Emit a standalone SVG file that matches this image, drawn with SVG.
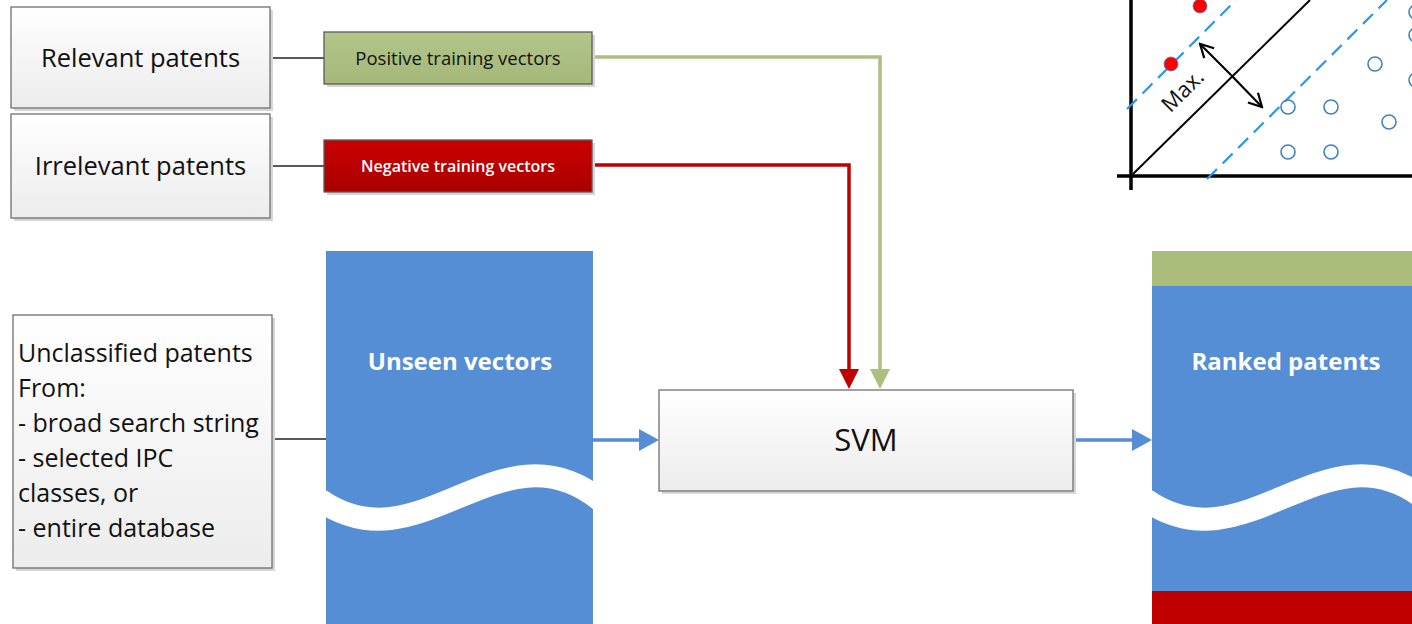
<svg xmlns="http://www.w3.org/2000/svg" width="1412" height="624" viewBox="0 0 1412 624">
<style>
.t{font-family:"Open Sans","Noto Sans","Liberation Sans",sans-serif;fill:#111}
.box{fill:url(#gbox);stroke:#6f6f6f;stroke-width:1.3}
.sh{fill:#d6d6d6}
.thin{stroke:#222;stroke-width:1.3;fill:none}
.blue{fill:#558ed5}
.wave{fill:none;stroke:#fff;stroke-width:23}
.wt{font-family:"Open Sans","Noto Sans","Liberation Sans",sans-serif;font-weight:bold;fill:#fff;font-size:24px;text-anchor:middle}
.dash{stroke:#2f95e6;stroke-width:2.2;stroke-dasharray:14 8;fill:none}
.pt{fill:none;stroke:#3f82c4;stroke-width:1.6}
</style>
<defs>
<linearGradient id="gbox" x1="0" y1="0" x2="0" y2="1"><stop offset="0" stop-color="#ffffff"/><stop offset="1" stop-color="#ececec"/></linearGradient>
<linearGradient id="ggreen" x1="0" y1="0" x2="0" y2="1"><stop offset="0" stop-color="#b3c68b"/><stop offset="1" stop-color="#a5b878"/></linearGradient>
<linearGradient id="gred" x1="0" y1="0" x2="0" y2="1"><stop offset="0" stop-color="#cc0000"/><stop offset="1" stop-color="#a90000"/></linearGradient>
<marker id="mb" markerUnits="userSpaceOnUse" markerWidth="20" markerHeight="22" refX="16" refY="11" orient="auto"><path d="M0,0 L20,11 L0,22 Z" fill="#558ed5"/></marker>
<marker id="mg" markerUnits="userSpaceOnUse" markerWidth="20" markerHeight="20" refX="16" refY="10" orient="auto"><path d="M0,0 L20,10 L0,20 Z" fill="#abc07f"/></marker>
<marker id="mr" markerUnits="userSpaceOnUse" markerWidth="20" markerHeight="20" refX="16" refY="10" orient="auto"><path d="M0,0 L20,10 L0,20 Z" fill="#c00000"/></marker>
<marker id="mo" markerUnits="userSpaceOnUse" markerWidth="16" markerHeight="16" refX="14" refY="8" orient="auto"><path d="M1,1 L14,8 L1,15" fill="none" stroke="#000" stroke-width="2.2"/></marker>
</defs>

<g id="connectors">
<line class="thin" x1="270" y1="58" x2="324" y2="58"/>
<line class="thin" x1="270" y1="166" x2="324" y2="166"/>
<line class="thin" x1="272" y1="439" x2="326" y2="439"/>
<path d="M592,57 H880 V385" fill="none" stroke="#abc07f" stroke-width="3.5" marker-end="url(#mg)"/>
<path d="M592,165 H849 V385" fill="none" stroke="#c00000" stroke-width="3.5" marker-end="url(#mr)"/>
<path d="M593,440 H655" fill="none" stroke="#558ed5" stroke-width="3.5" marker-end="url(#mb)"/>
<path d="M1073,440 H1148" fill="none" stroke="#558ed5" stroke-width="3.5" marker-end="url(#mb)"/>
</g>

<g id="relevant">
<rect class="sh" x="14" y="10" width="259" height="101"/>
<rect class="box" x="11" y="7" width="259" height="101"/>
<text class="t" x="140.5" y="67" font-size="25.5" text-anchor="middle">Relevant patents</text>
</g>
<g id="irrelevant">
<rect class="sh" x="14" y="117" width="259" height="104"/>
<rect class="box" x="11" y="114" width="259" height="104"/>
<text class="t" x="140.5" y="175" font-size="25.5" text-anchor="middle">Irrelevant patents</text>
</g>
<g id="positive">
<rect class="sh" x="327" y="35" width="268" height="52"/>
<rect x="324" y="32" width="268" height="52" fill="url(#ggreen)" stroke="#5a5a5a" stroke-width="1.3"/>
<text class="t" x="458" y="65" font-size="18.5" text-anchor="middle" fill="#222">Positive training vectors</text>
</g>
<g id="negative">
<rect class="sh" x="327" y="143" width="268" height="52"/>
<rect x="324" y="140" width="268" height="52" fill="url(#gred)" stroke="#5a5a5a" stroke-width="1.3"/>
<text x="458" y="172" font-size="16" text-anchor="middle" font-weight="600" fill="#fff" font-family="Open Sans, Noto Sans, sans-serif">Negative training vectors</text>
</g>
<g id="unclassified">
<rect class="sh" x="16" y="318" width="259" height="253"/>
<rect class="box" x="13" y="315" width="259" height="253"/>
<text class="t" font-size="25">
<tspan x="18" y="362">Unclassified patents</tspan>
<tspan x="18" y="397">From:</tspan>
<tspan x="18" y="432">- broad search string</tspan>
<tspan x="18" y="467">- selected IPC</tspan>
<tspan x="18" y="502">classes, or</tspan>
<tspan x="18" y="537">- entire database</tspan>
</text>
</g>
<g id="unseen">
<rect class="blue" x="326" y="251" width="267" height="373"/>
<path class="wave" d="M320,500 C420,570 500,420 600,500"/>
<text class="wt" x="460" y="370">Unseen vectors</text>
</g>
<g id="svm">
<rect class="sh" x="662" y="393" width="414" height="101"/>
<rect class="box" x="659" y="390" width="414" height="101"/>
<text class="t" x="866" y="451" font-size="31" text-anchor="middle">SVM</text>
</g>
<g id="ranked">
<rect class="blue" x="1152" y="251" width="267" height="373"/>
<rect x="1152" y="251" width="267" height="35" fill="#abbd7b"/>
<rect x="1152" y="591" width="267" height="33" fill="#c00000"/>
<path class="wave" d="M1146,500 C1246,570 1326,420 1426,500"/>
<text class="wt" x="1286" y="370">Ranked patents</text>
</g>
<g id="chart">
<line x1="1131" y1="0" x2="1131" y2="190" stroke="#000" stroke-width="3.5"/>
<line x1="1117" y1="176" x2="1412" y2="176" stroke="#000" stroke-width="3.5"/>
<line x1="1133" y1="174" x2="1310" y2="0" stroke="#000" stroke-width="2"/>
<line class="dash" x1="1127" y1="109" x2="1236" y2="0"/>
<line class="dash" x1="1207" y1="179" x2="1387" y2="0"/>
<circle cx="1200" cy="6" r="7" fill="#f00" stroke="#3f82c4" stroke-width="0.8"/>
<circle cx="1171" cy="64" r="7" fill="#f00" stroke="#3f82c4" stroke-width="0.8"/>
<circle class="pt" cx="1288" cy="107" r="7"/>
<circle class="pt" cx="1331" cy="107" r="7"/>
<circle class="pt" cx="1375" cy="64" r="7"/>
<circle class="pt" cx="1389" cy="122" r="7"/>
<circle class="pt" cx="1288" cy="152" r="7"/>
<circle class="pt" cx="1331" cy="152" r="7"/>
<circle class="pt" cx="1416" cy="12" r="7"/>
<circle class="pt" cx="1416" cy="35" r="7"/>
<circle class="pt" cx="1416" cy="80" r="7"/>
<path d="M1231,75 L1200,44" fill="none" stroke="#000" stroke-width="2.2" marker-end="url(#mo)"/>
<path d="M1231,75 L1262,107" fill="none" stroke="#000" stroke-width="2.2" marker-end="url(#mo)"/>
<text class="t" font-size="22" fill="#000" transform="translate(1183,91) rotate(-45)" text-anchor="middle" dy="7">Max.</text>
</g>
</svg>
